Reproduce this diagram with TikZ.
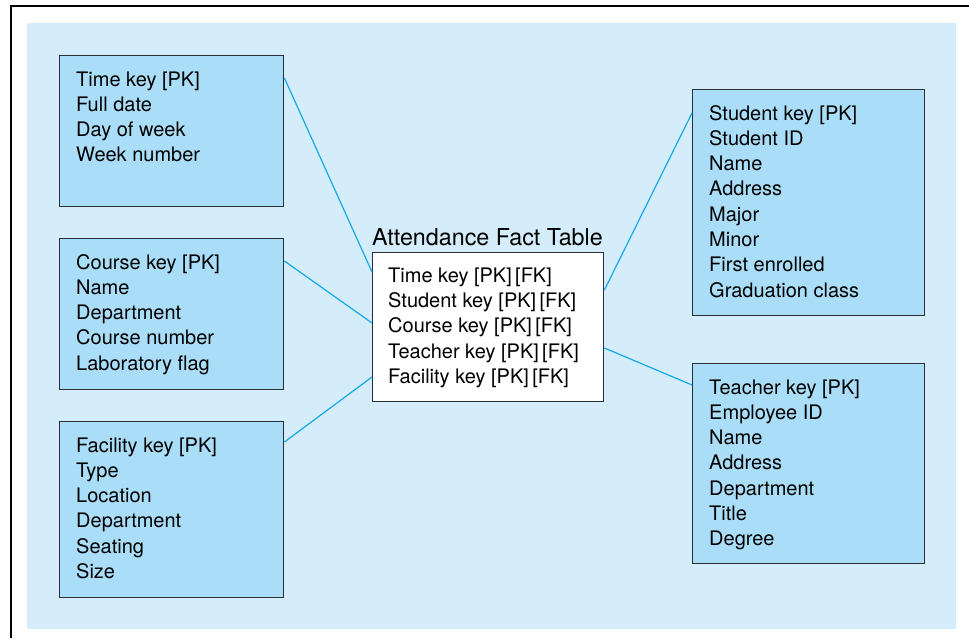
\documentclass[tikz,border=0pt]{standalone}
\usepackage{fontspec}
\setmainfont{TeX Gyre Heros}
\usetikzlibrary{calc}
\definecolor{bgblue}{RGB}{213,236,250}
\definecolor{boxblue}{RGB}{170,222,248}
\definecolor{connblue}{RGB}{20,170,232}
\definecolor{boxline}{RGB}{40,48,54}
\tikzset{
  tbl/.style={draw=boxline, line width=1.4pt, fill=boxblue, inner sep=0pt, anchor=north west},
  facttbl/.style={draw=boxline, line width=1.4pt, fill=white, inner sep=0pt, anchor=north west},
  txt/.style={anchor=base west, inner sep=0pt, align=left, font=\fontsize{20}{25.3}\selectfont},
  ttl/.style={anchor=base west, inner sep=0pt, font=\fontsize{23.3}{27}\selectfont},
  conn/.style={draw=connblue, line width=1.2pt}
}
\begin{document}
\begin{tikzpicture}[x=1pt,y=-1pt]
\useasboundingbox (0,0) rectangle (969,638);
\fill[bgblue] (27,23) rectangle (956,629);
\draw[line width=2pt] (969,6) -- (11,6) -- (11,638);

\node[tbl, minimum width=224, minimum height=151] (time) at (59,55) {};
\node[tbl, minimum width=224, minimum height=151] (course) at (59,238) {};
\node[tbl, minimum width=224, minimum height=176] (facility) at (59,421) {};
\node[facttbl, minimum width=231, minimum height=149] (fact) at (372,252) {};
\node[tbl, minimum width=232, minimum height=226] (student) at (692,89) {};
\node[tbl, minimum width=232, minimum height=200] (teacher) at (692,363) {};

% anchor base = baseline of the last line
\node[txt] (timetxt) at (76,161.9) {Time key [PK]\\Full date\\Day of week\\Week number};
\node[txt] (coursetxt) at (76,370.2) {Course key [PK]\\Name\\Department\\Course number\\Laboratory flag};
\node[txt] (facilitytxt) at (76,578.5) {Facility key [PK]\\Type\\Location\\Department\\Seating\\Size};
\node[ttl] (facttitle) at (372,245) {Attendance Fact Table};
\node[txt] (facttxt) at (388,383.5) {Time key [PK]\,[FK]\\Student key [PK]\,[FK]\\Course key [PK]\,[FK]\\Teacher key [PK]\,[FK]\\Facility key [PK]\,[FK]};
\node[txt] (studenttxt) at (709,297.1) {Student key [PK]\\Student ID\\Name\\Address\\Major\\Minor\\First enrolled\\Graduation class};
\node[txt] (teachertxt) at (709,545.8) {Teacher key [PK]\\Employee ID\\Name\\Address\\Department\\Title\\Degree};

\draw[conn] ($(time.north east)+(0,23)$) -- ($(fact.north west)+(0,20)$);
\draw[conn] ($(course.north east)+(0,23)$) -- ($(fact.north west)+(0,71)$);
\draw[conn] ($(facility.north east)+(0,21)$) -- ($(fact.north west)+(0,125)$);
\draw[conn] ($(fact.north east)+(0,38)$) -- ($(student.north west)+(0,24)$);
\draw[conn] ($(fact.north east)+(0,96)$) -- ($(teacher.north west)+(0,22)$);
\end{tikzpicture}
\end{document}
